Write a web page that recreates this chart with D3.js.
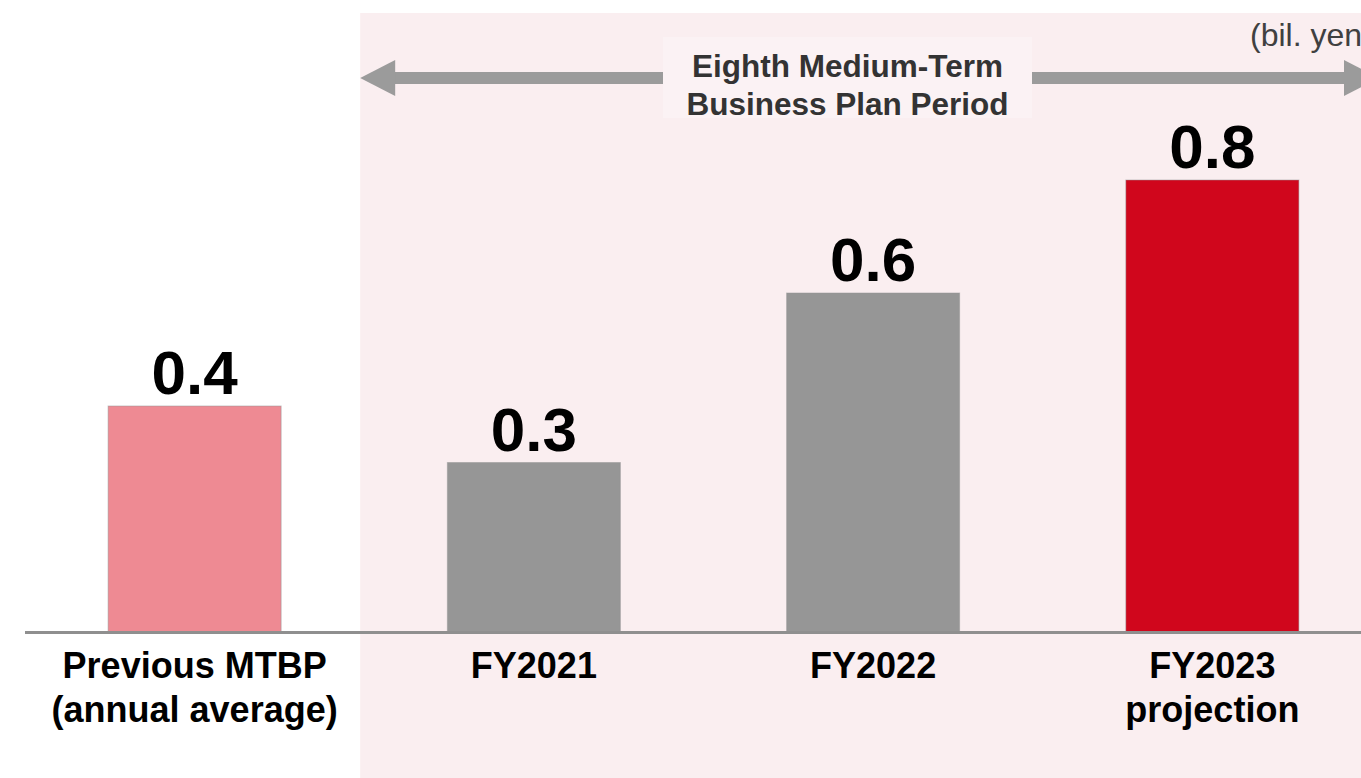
<!DOCTYPE html>
<html>
<head>
<meta charset="utf-8">
<script src="https://cdn.jsdelivr.net/npm/d3@7"></script>
<style>
  html, body { margin: 0; padding: 0; background: #fff; }
  svg { display: block; font-family: "Liberation Sans", Arial, Helvetica, sans-serif; }
</style>
</head>
<body>
<svg id="chart" width="1361" height="778"></svg>
<script>
// Category labels (each line of a label is one entry)
const categories = ["prev", "FY2021", "FY2022", "FY2023"];
const categoryLines = [
  ["Previous MTBP", "(annual average)"],
  ["FY2021"],
  ["FY2022"],
  ["FY2023", "projection"]
];
// Values in billions of yen
const values = [0.4, 0.3, 0.6, 0.8];
const valueLabels = ["0.4", "0.3", "0.6", "0.8"];
const barColors = ["#EE8A93", "#969696", "#969696", "#D0061C"];
const periodTitle = ["Eighth Medium-Term", "Business Plan Period"];
const unitLabel = "(bil. yen)";

const W = 1361, H = 778;
const svg = d3.select("#chart");

const x = d3.scaleBand()
  .domain(categories)
  .range([25, 1382])
  .paddingInner(0.49)
  .paddingOuter(0.245);

const y = d3.scaleLinear()
  .domain([0, 0.8])
  .range([632, 180]);

// Shaded plan period (covers the three FY columns)
const periodStart = x("FY2021") - x.step() * 0.257;
svg.append("rect")
  .attr("x", periodStart).attr("y", 13)
  .attr("width", W - periodStart).attr("height", H - 13)
  .attr("fill", "#FAEEF0");

// Double-headed arrow spanning the period, interrupted by the title
const arrowY = 78;
const arrowColor = "#9B9B9B";
const titleBox = { x0: 663, x1: 1032 };
const g = svg.append("g");
g.append("rect")
  .attr("x", periodStart + 34).attr("y", arrowY - 6)
  .attr("width", titleBox.x0 - (periodStart + 34)).attr("height", 12)
  .attr("fill", arrowColor);
g.append("path")
  .attr("d", `M${periodStart},${arrowY} L${periodStart + 35},${arrowY - 18} L${periodStart + 35},${arrowY + 18} Z`)
  .attr("fill", arrowColor);
g.append("rect")
  .attr("x", titleBox.x1).attr("y", arrowY - 6)
  .attr("width", 1345 - titleBox.x1).attr("height", 12)
  .attr("fill", arrowColor);
g.append("path")
  .attr("d", `M1344,${arrowY - 18} L1379,${arrowY} L1344,${arrowY + 18} Z`)
  .attr("fill", arrowColor);

// Title box
svg.append("rect")
  .attr("x", titleBox.x0).attr("y", 37)
  .attr("width", titleBox.x1 - titleBox.x0).attr("height", 81)
  .attr("fill", "#FBF2F4");
svg.append("text")
  .attr("text-anchor", "middle")
  .attr("font-size", 31.5).attr("font-weight", "bold").attr("fill", "#333333")
  .selectAll("tspan").data(periodTitle).join("tspan")
  .attr("x", (titleBox.x0 + titleBox.x1) / 2)
  .attr("y", (d, i) => 77 + i * 38)
  .text(d => d);

// Unit label (runs off the right edge of the panel)
svg.append("text")
  .attr("x", 1250).attr("y", 46)
  .attr("font-size", 32).attr("fill", "#404040")
  .text(unitLabel);

// Bars
svg.append("g").selectAll("rect").data(values).join("rect")
  .attr("x", (d, i) => x(categories[i]))
  .attr("y", d => y(d))
  .attr("width", x.bandwidth())
  .attr("height", d => y(0) - y(d))
  .attr("fill", (d, i) => barColors[i])
  .attr("stroke", "rgba(150,150,150,0.5)")
  .attr("stroke-width", 1);

// Value labels
svg.append("g").selectAll("text").data(values).join("text")
  .attr("x", (d, i) => x(categories[i]) + x.bandwidth() / 2)
  .attr("y", d => y(d) - 12)
  .attr("text-anchor", "middle")
  .attr("font-size", 62).attr("font-weight", "bold").attr("fill", "#000")
  .text((d, i) => valueLabels[i]);

// Baseline
svg.append("line")
  .attr("x1", 25).attr("x2", W)
  .attr("y1", y(0) + 0.5).attr("y2", y(0) + 0.5)
  .attr("stroke", "#8F8F8F").attr("stroke-width", 3);

// Category labels
const catG = svg.append("g").selectAll("text").data(categories).join("text")
  .attr("text-anchor", "middle")
  .attr("font-size", 36).attr("font-weight", "bold").attr("fill", "#000");
catG.selectAll("tspan").data((d, i) => categoryLines[i].map(t => ({ t, c: d })))
  .join("tspan")
  .attr("x", d => x(d.c) + x.bandwidth() / 2)
  .attr("y", (d, i) => 678 + i * 44)
  .text(d => d.t);
</script>
</body>
</html>
